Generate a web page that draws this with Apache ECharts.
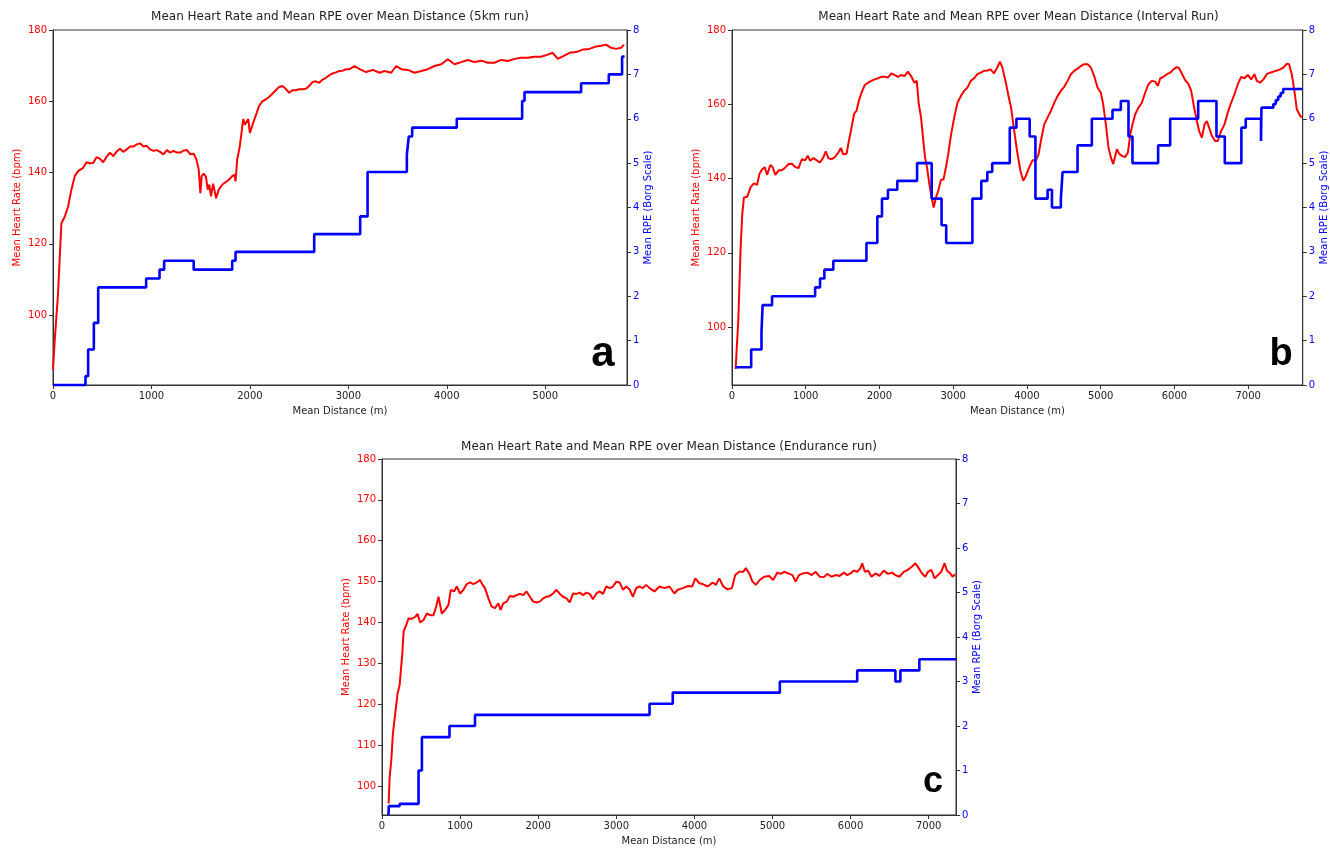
<!DOCTYPE html>
<html>
<head>
<meta charset="utf-8">
<script src="https://cdn.jsdelivr.net/npm/echarts@6/dist/echarts.min.js"></script>
<style>
html, body { margin: 0; padding: 0; background: #fff; }
#chart { width: 1330px; height: 849px; }
</style>
</head>
<body>
<div id="chart"></div>
<script>
// ---- Titles and panel letters ----
const titles = [
  'Mean Heart Rate and Mean RPE over Mean Distance (5km run)',
  'Mean Heart Rate and Mean RPE over Mean Distance (Interval Run)',
  'Mean Heart Rate and Mean RPE over Mean Distance (Endurance run)'
];
const letters = ['a', 'b', 'c'];

// ---- Tick labels ----
const distTicks5k = [0, 1000, 2000, 3000, 4000, 5000];
const distTicks7k = [0, 1000, 2000, 3000, 4000, 5000, 6000, 7000];
const hrTicksBy20 = [100, 120, 140, 160, 180];
const hrTicksBy10 = [100, 110, 120, 130, 140, 150, 160, 170, 180];

// ---- 5 km run: [distance m, mean HR bpm] ----
const hrRun5k = [
  [0,84.6],[17,92.7],[51,106],[85,125.7],[119,127.6],[153,130.4],[187,135.2],[221,139],[255,140.4],
  [306,141.3],[340,142.9],[374,142.6],[408,142.7],[442,144.3],[476,143.9],[510,142.9],[544,144.4],
  [578,145.6],[612,144.6],[646,145.9],[680,146.7],[714,145.8],[748,146.5],[782,147.3],[816,147.3],
  [850,147.9],[884,148.2],[918,147.3],[952,147.5],[986,146.5],[1020,146.1],[1054,146.3],[1088,145.8],
  [1122,145.1],[1156,146.3],[1190,145.6],[1224,146.1],[1259,145.6],[1293,145.6],[1327,146.2],[1361,146.3],
  [1395,145.1],[1429,145.3],[1456,143.7],[1480,140.9],[1497,134.2],[1510,139],[1531,139.7],[1554,138.8],
  [1571,135.2],[1588,136.6],[1605,133.3],[1626,136.9],[1639,135.2],[1656,132.8],[1684,135.2],[1718,136.6],
  [1752,137.3],[1786,138],[1820,139],[1844,139.4],[1854,137.5],[1871,143.7],[1895,147],[1915,151.3],
  [1932,155],[1949,153.4],[1966,153.4],[1983,155],[2000,151.1],[2017,151.3],[2041,154.6],[2068,156.7],
  [2092,158.6],[2126,160],[2160,160.5],[2194,161.2],[2228,162.1],[2262,163.1],[2296,164],[2330,164.3],
  [2364,163.5],[2398,162.4],[2432,163.1],[2466,163.1],[2500,163.4],[2534,163.4],[2568,163.5],[2602,164.3],
  [2636,165.4],[2670,165.6],[2704,165.2],[2738,166.1],[2772,166.6],[2806,167.3],[2840,167.8],[2874,168.1],
  [2908,168.5],[2942,168.6],[2976,169],[3012,169],[3063,169.9],[3114,169],[3181,168.2],[3249,168.8],
  [3317,168],[3367,168.5],[3435,168],[3486,169.9],[3537,169],[3604,168.8],[3672,168],[3740,168.5],
  [3807,169],[3875,169.9],[3943,170.4],[4010,171.8],[4078,170.4],[4146,171],[4213,171.6],[4281,171],
  [4349,171.4],[4416,170.8],[4484,170.8],[4552,171.6],[4619,171.3],[4687,171.9],[4755,172.2],[4822,172.2],
  [4890,172.5],[4958,172.5],[5025,173.1],[5076,173.6],[5127,171.9],[5178,172.6],[5246,173.6],[5313,173.8],
  [5381,174.5],[5449,174.7],[5516,175.4],[5567,175.6],[5618,175.9],[5668,175],[5719,174.7],[5770,175],[5800,175.9]
];
// ---- 5 km run: [distance m, mean RPE from this distance on] ----
const rpeRun5k = [
  [0,0],[330,0.2],[357,0.8],[415,1.4],[459,2.2],[946,2.4],[1082,2.6],[1129,2.8],[1429,2.6],[1820,2.8],
  [1854,3.0],[2653,3.4],[3120,3.8],[3195,4.8],[3594,5.2],[3614,5.6],[3648,5.8],[4101,6.0],[4765,6.4],
  [4789,6.6],[5364,6.8],[5645,7.0],[5780,7.4],[5805,7.4]
];

// ---- Interval run ----
const hrInterval = [
  [49,88.7],[85,101.7],[117,121.4],[139,130.4],[162,134.9],[207,135.1],[251,137.6],[296,138.7],[341,138.3],
  [372,141.2],[409,142.5],[445,143],[476,141],[521,143.7],[552,143],[588,141],[633,142.2],[678,142.2],
  [723,143],[768,143.9],[813,144],[858,143.1],[902,142.8],[947,145.2],[992,144.9],[1028,146.1],[1060,144.8],
  [1105,145.5],[1150,144.9],[1194,144.3],[1239,145.7],[1271,147.3],[1307,145.5],[1352,145.2],[1396,145.8],
  [1441,147],[1477,148.2],[1509,146.5],[1554,146.7],[1585,150.1],[1621,153.7],[1657,157.5],[1688,158.2],
  [1720,160.9],[1756,163.1],[1801,165.2],[1846,165.8],[1890,166.3],[1935,166.7],[1980,167],[2025,167.4],
  [2070,167.4],[2115,167.2],[2160,168.3],[2204,167.9],[2250,167.4],[2295,167.9],[2340,167.6],[2384,168.8],
  [2429,167.6],[2474,165.8],[2506,166.3],[2533,160],[2564,156.4],[2595,150.1],[2618,145.7],[2645,143],
  [2676,138.5],[2708,134.9],[2735,132.2],[2766,134.9],[2797,136.7],[2833,139.6],[2869,139.8],[2901,143],
  [2932,146.5],[2968,151.5],[3013,156.4],[3058,160.4],[3103,162.2],[3148,163.6],[3193,164.5],[3238,166.3],
  [3283,167],[3328,168.1],[3373,168.5],[3418,169],[3462,169.1],[3507,169.4],[3552,168.3],[3597,169.9],
  [3633,171.5],[3665,170],[3709,166.3],[3754,161.8],[3785,159.1],[3821,153.7],[3866,147.4],[3911,142.1],
  [3950,139.4],[3985,140.7],[4030,143],[4075,144.9],[4121,144.9],[4157,146.5],[4189,150.1],[4234,154.6],
  [4279,156.4],[4325,158.2],[4370,160.4],[4415,162.2],[4460,163.6],[4505,164.7],[4551,166.3],[4596,168.1],
  [4641,169],[4686,169.6],[4731,170.3],[4776,170.8],[4822,170.8],[4867,169.9],[4912,167.6],[4957,164.5],
  [5002,163.1],[5034,160],[5070,154.6],[5106,148.3],[5138,145.7],[5170,143.9],[5189,143.7],[5220,147.9],
  [5251,146.7],[5287,146.1],[5333,145.8],[5369,147],[5401,151.9],[5432,154.6],[5468,157.3],[5513,159.1],
  [5558,160.4],[5603,163.1],[5648,165.4],[5694,166.3],[5739,166.1],[5775,164.9],[5807,167],[5852,167.4],
  [5897,168.1],[5942,168.5],[5987,169.4],[6033,170],[6064,169.7],[6100,168.3],[6145,166.5],[6191,165.4],
  [6227,163.6],[6263,159.6],[6304,155.5],[6335,152.8],[6372,151],[6408,154.6],[6439,155.5],[6471,153.7],
  [6507,151.5],[6552,150.1],[6588,150.1],[6634,152.8],[6679,154.6],[6724,157.8],[6769,160.4],[6814,162.7],
  [6860,165.4],[6905,167.4],[6950,167],[6995,167.9],[7040,166.7],[7085,168.1],[7117,166.3],[7162,165.8],
  [7207,166.7],[7252,168.1],[7298,168.5],[7343,168.8],[7388,169.1],[7433,169.4],[7478,169.9],[7524,170.9],
  [7555,170.8],[7591,168.1],[7627,163.6],[7659,158.7],[7704,156.9],[7727,156.4]
];
const rpeInterval = [
  [49,0.4],[260,0.8],[400,1.2],[415,1.8],[543,2.0],[1127,2.2],[1194,2.4],[1253,2.6],[1374,2.8],[1823,3.2],
  [1971,3.8],[2034,4.2],[2115,4.4],[2241,4.6],[2510,5.0],[2708,4.2],[2842,3.6],[2905,3.2],[3260,4.2],
  [3381,4.6],[3462,4.8],[3529,5.0],[3767,5.8],[3857,6.0],[4037,5.6],[4115,4.2],[4280,4.4],[4339,4.0],
  [4460,4.2],[4483,4.8],[4686,5.4],[4880,6.0],[5160,6.2],[5273,6.4],[5377,5.6],[5431,5.0],[5779,5.4],
  [5942,6.0],[6322,6.4],[6570,5.6],[6683,5.0],[6908,5.8],[6967,6.0],[7174,5.5],[7180,6.25],[7341,6.33],
  [7375,6.42],[7408,6.5],[7441,6.58],[7475,6.67],[7735,6.67]
];

// ---- Endurance run ----
const hrEndurance = [
  [85,95.7],[98,102.2],[119,106.3],[140,112.9],[170,117.8],[200,122.7],[226,124.7],[243,124.7],[260,132.4],
  [277,137.8],[311,139.4],[340,141],[383,140.9],[426,141.4],[455,142.1],[489,140],[532,140.6],[574,142.2],
  [617,141.8],[660,141.8],[694,143.9],[723,146.3],[745,146.7],[766,142.2],[809,143.1],[851,144.3],[881,148],
  [923,147.6],[957,148.8],[1000,147.1],[1043,148],[1085,149.4],[1128,149.8],[1170,149.4],[1213,149.8],
  [1255,150.4],[1289,149.2],[1319,148.4],[1362,145.9],[1404,143.9],[1447,143.5],[1489,144.7],[1519,143.1],
  [1553,144.7],[1596,145.1],[1638,146.5],[1681,146.3],[1723,146.7],[1766,147],[1809,146.7],[1851,147.6],
  [1894,146.3],[1936,145.1],[1979,144.9],[2021,145.1],[2064,145.9],[2106,146.3],[2149,146.5],[2191,147.1],
  [2234,148],[2277,147],[2319,146.3],[2362,145.9],[2404,144.9],[2447,147.1],[2489,147],[2532,147.3],
  [2574,146.7],[2617,147.3],[2660,147],[2702,145.7],[2745,147.1],[2787,147.6],[2830,147],[2872,148.8],
  [2915,148.4],[2957,148.8],[3000,150],[3043,149.8],[3085,148],[3128,148.8],[3170,148.1],[3213,146.3],
  [3255,148.4],[3298,148.8],[3340,148.4],[3383,149.2],[3426,148.4],[3489,147.6],[3553,148.8],[3617,148.4],
  [3681,148.8],[3744,147.1],[3787,148],[3851,148.4],[3914,148.9],[3970,148.8],[4012,150.8],[4063,149.6],
  [4106,149.4],[4170,148.8],[4234,149.8],[4276,149.2],[4319,150.8],[4370,148.8],[4425,148.1],[4480,148.4],
  [4523,151.6],[4574,152.4],[4625,152.4],[4659,153.3],[4702,152],[4744,150],[4787,149.2],[4838,150.4],
  [4893,151.2],[4957,151.4],[5008,150.4],[5063,152.2],[5106,151.9],[5148,152.4],[5204,152],[5255,151.6],
  [5297,150],[5340,151.6],[5391,152],[5446,152.2],[5502,151.6],[5553,152.4],[5604,151.2],[5659,151.1],
  [5702,151.9],[5757,151.2],[5808,151.6],[5859,151.4],[5915,152.2],[5957,151.6],[6000,152],[6042,152.7],
  [6085,152.4],[6127,153.3],[6149,154.5],[6183,152.4],[6225,152.7],[6268,151.2],[6319,152],[6370,151.4],
  [6425,152.7],[6480,151.9],[6532,152.2],[6574,151.6],[6625,151.2],[6681,152.4],[6736,152.9],[6787,153.7],
  [6830,154.5],[6872,153.3],[6915,152],[6957,151.2],[6991,152.4],[7034,152.9],[7076,150.8],[7119,151.6],
  [7161,152.4],[7204,154.5],[7234,152.7],[7276,152],[7306,151.2],[7340,151.8]
];
const rpeEndurance = [
  [82,0],[88,0.2],[226,0.25],[468,1.0],[511,1.75],[864,2.0],[1191,2.25],[3426,2.5],[3723,2.75],
  [5094,3.0],[6085,3.25],[6574,3.0],[6638,3.25],[6881,3.5],[7350,3.5]
];

// ---- Layout of the three panels ----
const FONT = '"DejaVu Sans", sans-serif';
const plainNumber = v => String(v);
const panels = [
  { title: titles[0], letter: letters[0], hr: hrRun5k, rpe: rpeRun5k, xMax: 5830, hrMin: 80.4,
    xTicks: distTicks5k, hrTicks: hrTicksBy20,
    grid: { left: 53, top: 30, width: 574, height: 355 }, titleTop: 11,
    letterAt: [603, 354], letterSize: 42 },
  { title: titles[1], letter: letters[1], hr: hrInterval, rpe: rpeInterval, xMax: 7740, hrMin: 84.4,
    xTicks: distTicks7k, hrTicks: hrTicksBy20,
    grid: { left: 732, top: 30, width: 573, height: 355 }, titleTop: 11,
    letterAt: [1281, 355], letterSize: 38 },
  { title: titles[2], letter: letters[2], hr: hrEndurance, rpe: rpeEndurance, xMax: 7350, hrMin: 92.9,
    xTicks: distTicks7k, hrTicks: hrTicksBy10,
    grid: { left: 382, top: 459, width: 574, height: 356 }, titleTop: 441,
    letterAt: [933, 782], letterSize: 36 }
];

const option = {
  animation: false,
  backgroundColor: '#ffffff',
  title: [], grid: [], xAxis: [], yAxis: [], series: [], graphic: []
};

panels.forEach((p, i) => {
  option.grid.push(Object.assign({ show: true, borderColor: '#333', borderWidth: 1 }, p.grid));
  option.title.push({
    text: p.title,
    left: p.grid.left + p.grid.width / 2,
    top: p.titleTop,
    textAlign: 'center',
    padding: 0,
    textStyle: { fontFamily: FONT, fontSize: 12, fontWeight: 'normal', color: '#222' }
  });
  option.xAxis.push({
    type: 'value', gridIndex: i, min: 0, max: p.xMax,
    name: 'Mean Distance (m)', nameLocation: 'middle', nameGap: 21,
    nameTextStyle: { fontFamily: FONT, fontSize: 10, color: '#222' },
    axisLine: { show: true, lineStyle: { color: '#333' } },
    axisTick: { show: true, length: 4, customValues: p.xTicks, lineStyle: { color: '#333' } },
    axisLabel: { customValues: p.xTicks, formatter: plainNumber, fontFamily: FONT, fontSize: 10, color: '#222', margin: 6 },
    splitLine: { show: false }
  });
  option.yAxis.push({
    type: 'value', gridIndex: i, position: 'left', min: p.hrMin, max: 180,
    name: 'Mean Heart Rate (bpm)', nameLocation: 'middle', nameRotate: 90, nameGap: 31,
    nameTextStyle: { fontFamily: FONT, fontSize: 10, color: 'red' },
    axisLine: { show: true, lineStyle: { color: '#333' } },
    axisTick: { show: true, length: 4, customValues: p.hrTicks, lineStyle: { color: '#333' } },
    axisLabel: { customValues: p.hrTicks, formatter: plainNumber, fontFamily: FONT, fontSize: 10, color: 'red', margin: 6 },
    splitLine: { show: false }
  });
  option.yAxis.push({
    type: 'value', gridIndex: i, position: 'right', min: 0, max: 8, interval: 1,
    name: 'Mean RPE (Borg Scale)', nameLocation: 'middle', nameRotate: 90, nameGap: 16,
    nameTextStyle: { fontFamily: FONT, fontSize: 10, color: 'blue' },
    axisLine: { show: true, lineStyle: { color: '#333' } },
    axisTick: { show: true, length: 4, lineStyle: { color: '#333' } },
    axisLabel: { formatter: plainNumber, fontFamily: FONT, fontSize: 10, color: 'blue', margin: 6 },
    splitLine: { show: false }
  });
  option.series.push({
    type: 'line', xAxisIndex: i, yAxisIndex: 2 * i, data: p.hr,
    symbol: 'none', z: 2,
    lineStyle: { color: 'red', width: 2 }, itemStyle: { color: 'red' }
  });
  option.series.push({
    type: 'line', step: 'end', xAxisIndex: i, yAxisIndex: 2 * i + 1, data: p.rpe,
    symbol: 'none', clip: false, z: 3,
    lineStyle: { color: 'blue', width: 2.6 }, itemStyle: { color: 'blue' }
  });
  option.graphic.push({
    type: 'text', x: p.letterAt[0], y: p.letterAt[1], z: 10,
    style: {
      text: p.letter, fill: '#000',
      font: 'bold ' + p.letterSize + 'px "Liberation Sans", Arial, sans-serif',
      align: 'center', verticalAlign: 'middle'
    }
  });
});

const chart = echarts.init(document.getElementById('chart'), null, { renderer: 'canvas' });
chart.setOption(option);
</script>
</body>
</html>
